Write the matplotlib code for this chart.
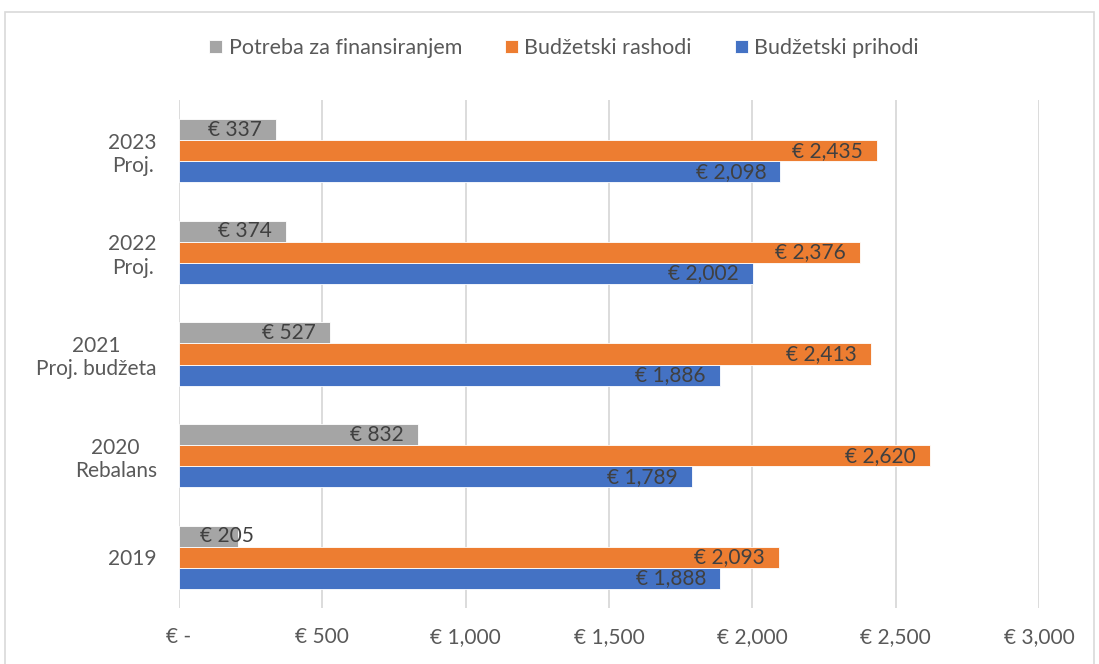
import numpy as np
import matplotlib.pyplot as plt
from matplotlib.patches import Rectangle
from matplotlib.ticker import FuncFormatter

plt.rcParams['font.family'] = ['Lato', 'DejaVu Sans']

categories = ["2019", "2020\nRebalans", "2021\nProj. budžeta", "2022\nProj.", "2023\nProj."]
prihodi = [1888, 1789, 1886, 2002, 2098]
rashodi = [2093, 2620, 2413, 2376, 2435]
potreba = [205, 832, 527, 374, 337]

series = [
    ("Budžetski prihodi", prihodi, "#4472C4"),
    ("Budžetski rashodi", rashodi, "#ED7D31"),
    ("Potreba za finansiranjem", potreba, "#A5A5A5"),
]

fig = plt.figure(figsize=(10.99, 6.64), dpi=100)
ax = fig.add_axes([179 / 1099, 1 - 608 / 664, (1039 - 179) / 1099, 508 / 664])

y = np.arange(len(categories))
h = 0.207
handles = []
for i, (name, vals, color) in enumerate(series):
    pos = y + (i - 1) * h
    bars = ax.barh(pos, vals, height=h, color=color, edgecolor='white',
                   linewidth=0.6, label=name, zorder=2)
    handles.append(bars)
    for p, v in zip(pos, vals):
        if v < 300:
            # label does not fit inside the short bar
            ax.annotate(f"€ {v:,}", (0, p), xytext=(21, 0), textcoords='offset pixels',
                        ha='left', va='center', fontsize=15, color='#404040', zorder=3)
        else:
            ax.annotate(f"€ {v:,}", (v, p), xytext=(-14, 0), textcoords='offset pixels',
                        ha='right', va='center', fontsize=15, color='#404040', zorder=3)

ax.set_xlim(0, 3000)
ax.set_ylim(-0.5, len(categories) - 0.5)
ax.set_xticks(np.arange(0, 3001, 500))
ax.xaxis.set_major_formatter(FuncFormatter(lambda x, _: "€ -" if x == 0 else f"€ {int(x):,}"))
ax.set_yticks(y)
ax.set_yticklabels(categories, ha='right', multialignment='center')
ax.tick_params(axis='y', length=0, pad=16, labelsize=15, labelcolor='#595959')
ax.tick_params(axis='x', length=0, pad=14, labelsize=15, labelcolor='#595959')
ax.grid(axis='x', color='#D9D9D9', linewidth=1.3, zorder=0)
ax.set_axisbelow(True)
for s in ax.spines.values():
    s.set_visible(False)

fig.legend(handles[::-1], [s[0] for s in series][::-1], loc='center',
           bbox_to_anchor=(564 / 1099, 1 - 48 / 664), ncol=3, frameon=False,
           fontsize=15.5, labelcolor='#595959', handlelength=0.6, handleheight=0.6,
           handletextpad=0.3, columnspacing=2.0)

fig.patches.append(Rectangle((5 / 1099, -0.01), 1089 / 1099, 1.01 - 12 / 664,
                             transform=fig.transFigure, fill=False,
                             edgecolor='#D9D9D9', linewidth=1.2))

fig.savefig('out.png', dpi=100)
